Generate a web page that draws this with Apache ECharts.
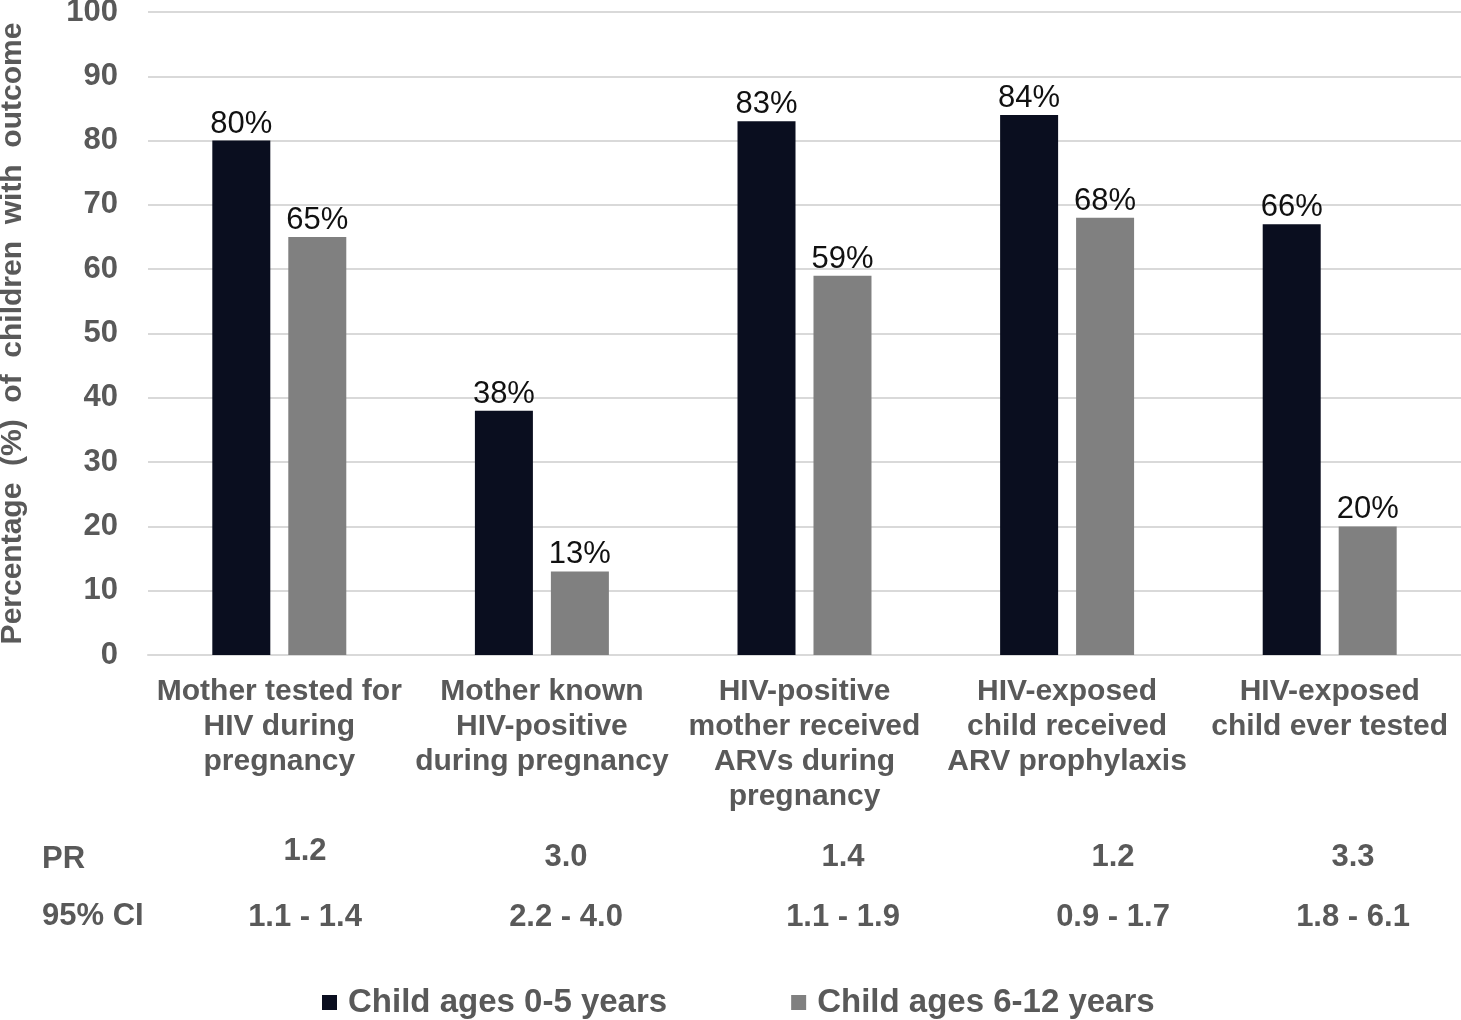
<!DOCTYPE html>
<html>
<head>
<meta charset="utf-8">
<script src="https://cdn.jsdelivr.net/npm/echarts@6/dist/echarts.min.js"></script>
<style>html,body{margin:0;padding:0;background:#fff;}#chart{width:1461px;height:1020px;}</style>
</head>
<body>
<div id="chart"></div>
<script>
// ---- data ----
const categories = [
  'Mother tested for\nHIV during\npregnancy',
  'Mother known\nHIV-positive\nduring pregnancy',
  'HIV-positive\nmother received\nARVs during\npregnancy',
  'HIV-exposed\nchild received\nARV prophylaxis',
  'HIV-exposed\nchild ever tested'
];
const seriesNames = ['Child ages 0-5 years', 'Child ages 6-12 years'];
const young = [80, 38, 83, 84, 67];
const youngLabels = ['80%', '38%', '83%', '84%', '66%'];
const older = [65, 13, 59, 68, 20];
const olderLabels = ['65%', '13%', '59%', '68%', '20%'];
const prValues = ['1.2', '3.0', '1.4', '1.2', '3.3'];
const ciValues = ['1.1 - 1.4', '2.2 - 4.0', '1.1 - 1.9', '0.9 - 1.7', '1.8 - 6.1'];
const yTicks = [0, 10, 20, 30, 40, 50, 60, 70, 80, 90, 100];

// ---- layout (table text positions, not data marks) ----
const tableColX = [305, 566, 843, 1113, 1353];
const prRowY = [851, 857, 857, 857, 857];
const ciRowY = 917;

const FONT = '"Liberation Sans", Arial, sans-serif';
const GREY_TXT = '#595959';

const chart = echarts.init(document.getElementById('chart'));
const hiddenAxis = {show: false};

const graphics = [
  {type: 'text', left: 42, top: 860 - 16, style: {text: 'PR', fill: GREY_TXT, font: 'bold 31px ' + FONT}},
  {type: 'text', left: 42, top: ciRowY - 16, style: {text: '95% CI', fill: GREY_TXT, font: 'bold 31px ' + FONT}}
];
prValues.forEach((t, i) => graphics.push({
  type: 'text', x: tableColX[i], y: prRowY[i],
  style: {text: t, fill: GREY_TXT, font: 'bold 31px ' + FONT, textAlign: 'center', textVerticalAlign: 'middle'}
}));
ciValues.forEach((t, i) => graphics.push({
  type: 'text', x: tableColX[i], y: ciRowY,
  style: {text: t, fill: GREY_TXT, font: 'bold 31px ' + FONT, textAlign: 'center', textVerticalAlign: 'middle'}
}));

chart.setOption({
  animation: false,
  backgroundColor: '#fff',
  grid: {left: 148, right: 0, top: 12, bottom: 365, containLabel: false, outerBoundsMode: 'none'},
  legend: {
    data: seriesNames, top: 986, left: 322, padding: 0, icon: 'rect',
    itemWidth: 15, itemHeight: 15, itemGap: 124,
    textStyle: {color: GREY_TXT, fontFamily: FONT, fontWeight: 'bold', fontSize: 33, padding: [0, 0, 0, 6]}
  },
  xAxis: {
    type: 'category', data: categories,
    axisLine: {lineStyle: {color: '#d9d9d9', width: 2}},
    axisTick: hiddenAxis,
    axisLabel: {margin: 19, interval: 0, color: GREY_TXT, fontFamily: FONT, fontWeight: 'bold', fontSize: 30, lineHeight: 35}
  },
  yAxis: {
    type: 'value', min: 0, max: 100, interval: 10,
    name: 'Percentage  (%)  of  children  with  outcome',
    nameLocation: 'middle', nameGap: 120, nameRotate: 90,
    nameTextStyle: {color: GREY_TXT, fontFamily: FONT, fontWeight: 'bold', fontSize: 30},
    axisLine: hiddenAxis, axisTick: hiddenAxis,
    splitLine: {lineStyle: {color: '#d9d9d9', width: 2}},
    axisLabel: {margin: 30, color: GREY_TXT, fontFamily: FONT, fontWeight: 'bold', fontSize: 31,
      formatter: v => yTicks.includes(v) ? String(v) : ''}
  },
  graphic: graphics,
  series: [
    {
      name: seriesNames[0], type: 'bar', data: young, barWidth: 58, barGap: '31%',
      itemStyle: {color: '#0a0e1f'},
      label: {show: true, position: 'top', distance: 1, color: '#111', fontFamily: FONT, fontSize: 31,
        formatter: p => youngLabels[p.dataIndex]}
    },
    {
      name: seriesNames[1], type: 'bar', data: older, barWidth: 58,
      itemStyle: {color: '#808080'},
      label: {show: true, position: 'top', distance: 1, color: '#111', fontFamily: FONT, fontSize: 31,
        formatter: p => olderLabels[p.dataIndex]}
    }
  ]
});
</script>
</body>
</html>
